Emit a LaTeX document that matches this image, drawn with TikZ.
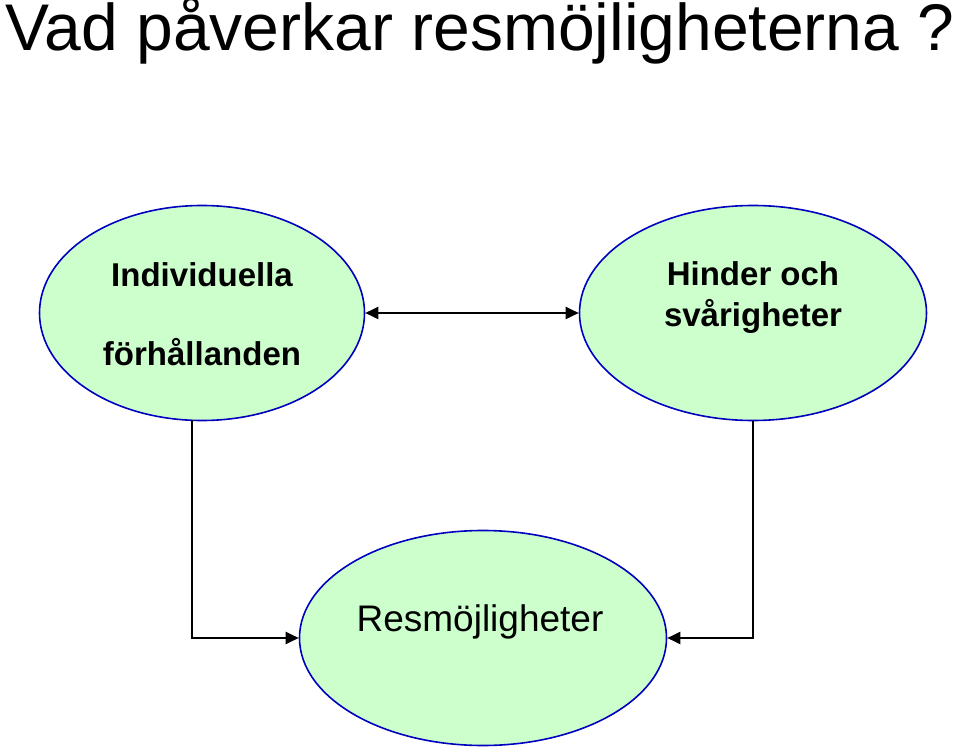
\documentclass[tikz,border=0pt]{standalone}
\usepackage{fontspec}
\setmainfont{Liberation Sans}
\usetikzlibrary{shapes.geometric,arrows.meta,positioning}
\definecolor{bubblefill}{RGB}{204,255,204}
\definecolor{bubbleline}{RGB}{0,0,190}

\begin{document}
\begin{tikzpicture}[x=1pt,y=-1pt,
    bubble/.style={ellipse,draw=bubbleline,fill=bubblefill,line width=1.6pt,inner sep=0pt},
    link/.style={line width=2.2pt,-{Triangle[length=13pt,width=12pt]}},
    bigtext/.style={font=\fontsize{33}{36}\selectfont\bfseries,anchor=base}]
    \useasboundingbox (0,0) rectangle (959,751);
    \node[anchor=base west,font=\fontsize{66}{72}\selectfont] (title) at (2,51) {Vad påverkar resmöjligheterna ?};

    % Ellipses
    \node[bubble,minimum width=325pt,minimum height=215pt] (indiv) at (202,313) {};
    \node[bubble,minimum width=347pt,minimum height=215pt] (hinder) at (753,313) {};
    \node[bubble,minimum width=367pt,minimum height=215pt] (travel) at (483,638) {};

    % Texts
    \node[bigtext] (indivA) at (202,287) {Individuella};
    \node[bigtext] (indivB) at (202,366) {förhållanden};
    \node[bigtext] (hinderA) at (753,286) {Hinder och};
    \node[bigtext] (hinderB) at (753,327) {svårigheter};
    \node[bigtext,font=\fontsize{37}{40}\selectfont] (travelA) at (480,631) {Resmöjligheter};

    % Connectors
    \coordinate (indivfoot) at (192,420);
    \draw[link,{Triangle[length=13pt,width=12pt]}-{Triangle[length=13pt,width=12pt]}] (indiv.east) -- (hinder.west);
    \draw[link] (indivfoot) |- (travel.west);
    \draw[link] (hinder.south) |- (travel.east);
\end{tikzpicture}
\end{document}
